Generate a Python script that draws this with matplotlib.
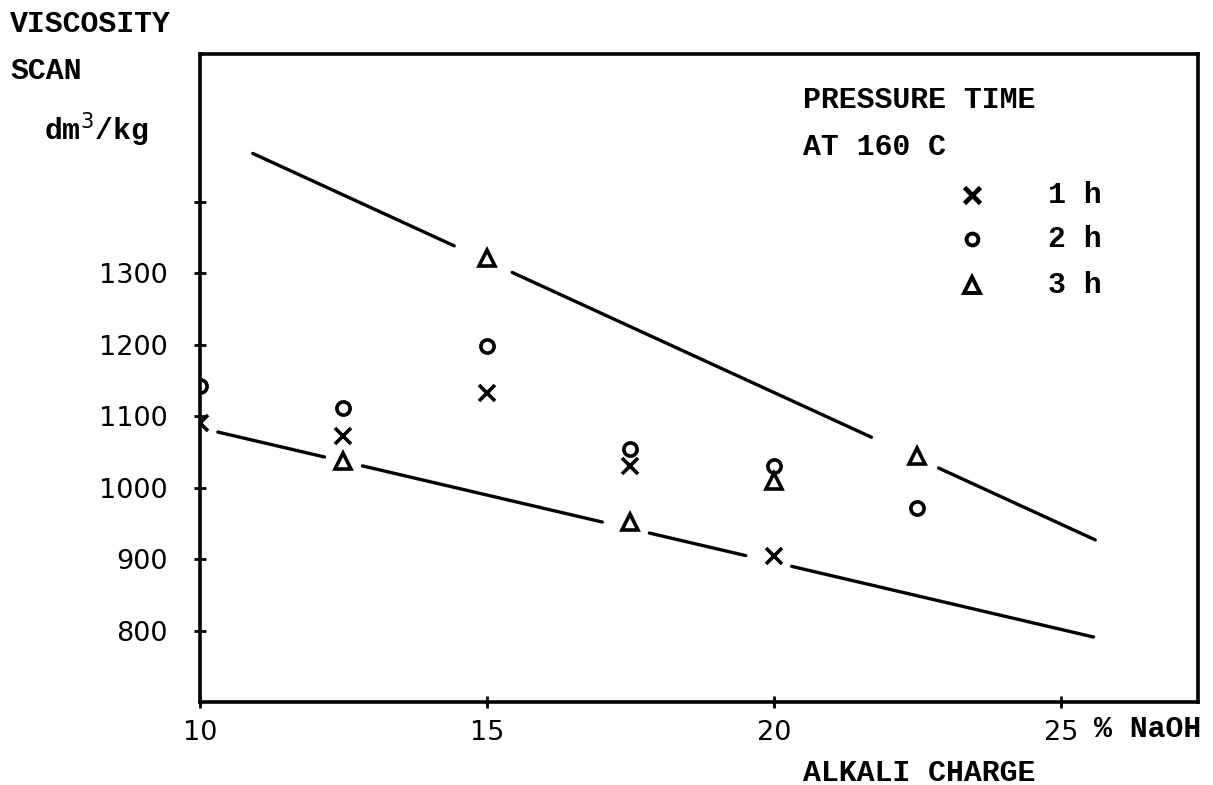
import numpy as np
import matplotlib
matplotlib.use("Agg")
import matplotlib.pyplot as plt

# alkali charge, % NaOH
charge_1h = [10, 12.5, 15, 17.5, 20]
visc_1h = [1090, 1073, 1132, 1031, 905]
charge_2h = [10, 12.5, 15, 17.5, 20, 22.5]
visc_2h = [1143, 1111, 1199, 1054, 1031, 971]
charge_3h = [12.5, 15, 17.5, 20, 22.5]
visc_3h = [1038, 1321, 952, 1010, 1044]

# hand drawn trend lines: end points and the gaps left around markers
upper_ends_x = [10.92, 25.6]
upper_ends_y = [1468, 927]
upper_pieces = [(10.92, 14.43), (15.44, 21.70), (22.87, 25.6)]
lower_ends_x = [10.31, 25.57]
lower_ends_y = [1078, 791]
lower_pieces = [(10.31, 12.17), (12.83, 17.01), (17.83, 19.51), (20.31, 25.57)]

yticks = [800, 900, 1000, 1100, 1200, 1300, 1400]
ytick_labels = ['800', '900', '1000', '1100', '1200', '1300', '']
xticks = [10, 15, 20, 25]

mono = 'Liberation Mono'
fs = 21.5

fig = plt.figure(figsize=(12.13, 7.85), dpi=100)
ax = fig.add_axes([0.1649, 0.1057, 0.8227, 0.8253])

for ends_x, ends_y, pieces in [(upper_ends_x, upper_ends_y, upper_pieces),
                               (lower_ends_x, lower_ends_y, lower_pieces)]:
    for a, b in pieces:
        xs = np.array([a, b])
        ax.plot(xs, np.interp(xs, ends_x, ends_y), color='black', lw=2.4,
                solid_capstyle='round')

ax.plot(charge_1h, visc_1h, 'x', color='black', ms=11, mew=2.6)
ax.plot(charge_2h, visc_2h, 'o', mfc='none', mec='black', ms=9.5, mew=2.6)
ax.plot(charge_3h, visc_3h, '^', mfc='none', mec='black', ms=12, mew=2.6)

ax.set_xlim(10, 27.39)
ax.set_ylim(700, 1607)
ax.set_xticks(xticks)
ax.set_xticklabels([str(v) for v in xticks])
ax.set_yticks(yticks)
ax.set_yticklabels(ytick_labels)
ax.tick_params(direction='inout', length=8, width=2, labelsize=19.5)
ax.tick_params(axis='x', pad=9)
ax.tick_params(axis='y', pad=19)
for s in ax.spines.values():
    s.set_linewidth(2.6)

# legend block written inside the frame
fig.text(803 / 1213, 1 - 100 / 785, 'PRESSURE TIME', fontsize=fs, family=mono,
         fontweight='bold', va='center')
fig.text(803 / 1213, 1 - 147 / 785, 'AT 160 C', fontsize=fs, family=mono,
         fontweight='bold', va='center')
rows = [('x', '1 h', 195), ('o', '2 h', 239), ('^', '3 h', 285)]
for mk, lab, py in rows:
    fy = 1 - py / 785
    fig.lines.append(plt.Line2D([972 / 1213], [fy], marker=mk, color='black',
                                mfc='none', ms=11 if mk != 'o' else 8.5,
                                mew=3.4 if mk == 'x' else 2.8,
                                transform=fig.transFigure, figure=fig))
    fig.text(1048 / 1213, fy, lab, fontsize=fs, family=mono,
             fontweight='bold', va='center')

fig.text(10 / 1213, 1 - 24 / 785, 'VISCOSITY', fontsize=fs, family=mono,
         fontweight='bold', va='center')
fig.text(10 / 1213, 1 - 71 / 785, 'SCAN', fontsize=fs, family=mono,
         fontweight='bold', va='center')
fig.text(44 / 1213, 1 - 130 / 785, 'dm$^3$/kg', fontsize=fs, family=mono,
         fontweight='bold', va='center')
fig.text(1094 / 1213, 1 - 729 / 785, '% NaOH', fontsize=fs, family=mono,
         fontweight='bold', va='center')
fig.text(803 / 1213, 1 - 773 / 785, 'ALKALI CHARGE', fontsize=fs, family=mono,
         fontweight='bold', va='center')

fig.savefig('out.png', dpi=100)
